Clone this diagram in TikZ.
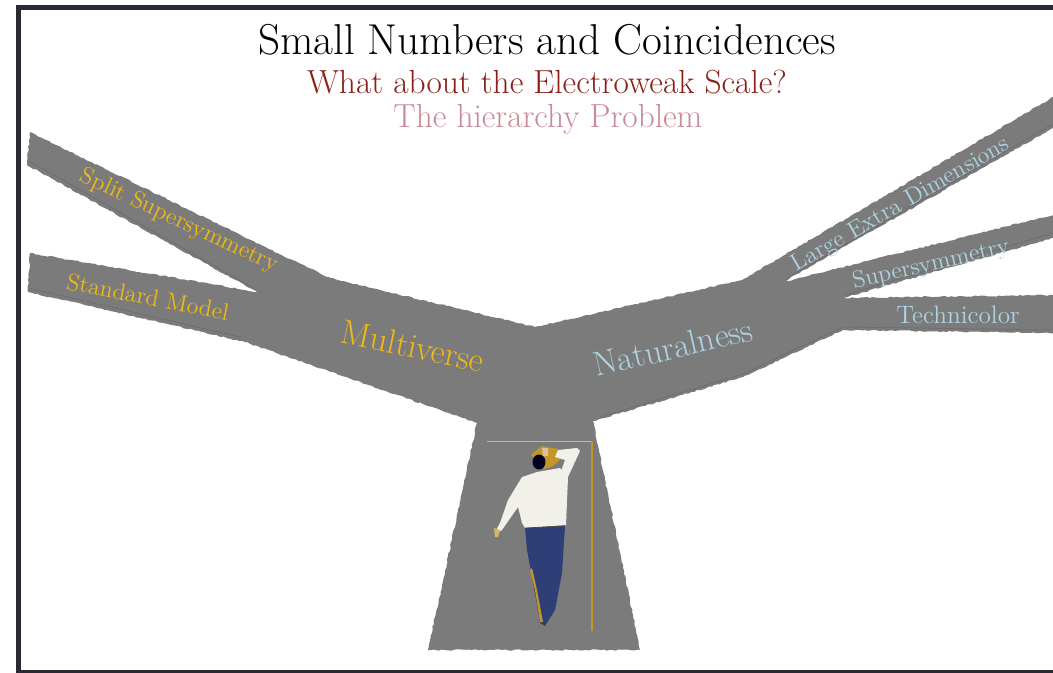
\documentclass[tikz,border=0pt]{standalone}
\usepackage{tikz}
\usetikzlibrary{decorations.pathmorphing}

\definecolor{bark}{RGB}{123,123,123}
\definecolor{frameink}{RGB}{42,42,52}
\definecolor{titlered}{RGB}{140,32,24}
\definecolor{titlepink}{RGB}{201,138,152}
\definecolor{leafgold}{RGB}{240,186,20}
\definecolor{leafblue}{RGB}{172,212,228}
\definecolor{shirt}{RGB}{241,241,233}
\definecolor{jeans}{RGB}{46,62,118}
\definecolor{ochre}{RGB}{196,150,40}

\tikzset{
	twig/.style={font=\fontsize{11.9}{12}\selectfont, inner sep=0pt},
	bough/.style={font=\fontsize{17.2}{18}\selectfont, inner sep=0pt},
	rough/.style={decorate, decoration={random steps, segment length=1.5pt, amplitude=0.35pt}},
}

\begin{document}
\begin{tikzpicture}[x=0.5pt, y=-0.5pt]
			%%%%% START %%%%%
			
			\useasboundingbox (0, 0) rectangle (1053, 673);
			\clip (0, 0) rectangle (1053, 673);
			\fill[white] (0, 0) rectangle (1053, 673);
			\draw[line width=2.5pt, color=frameink] (18.5, 7.7) rectangle (1070, 672);
			
			\node[font=\fontsize{21.6}{22}\selectfont, anchor=base] (title) at (547, 55) {Small Numbers and Coincidences};
			\node[font=\fontsize{16.7}{17}\selectfont, anchor=base, text=titlered] (question) at (547, 94) {What about the Electroweak Scale?};
			\node[font=\fontsize{16.7}{17}\selectfont, anchor=base, text=titlepink] (problem) at (548, 128) {The hierarchy Problem};
			
			\fill[bark, rough] (428, 650) -- (477, 423) -- (245, 342) -- (28, 292) -- (30, 253) -- (257, 292)
				-- (27, 165) -- (30, 132) -- (277, 253) -- (330, 278) -- (535, 327)
				-- (742, 280) -- (1060, 93) -- (1060, 124) -- (783, 282) -- (1060, 213)
				-- (1060, 236) -- (843, 298) -- (1060, 295) -- (1060, 333) -- (843, 330)
				-- (743, 377) -- (593, 421) -- (640, 650) -- cycle;
			
			\draw[line width=0.3pt, color=black!58] (29, 161) -- (255, 289);
			\draw[line width=0.3pt, color=black!58] (29, 288) -- (240, 337);
			\draw[line width=0.3pt, color=black!58] (786, 279) -- (1053, 124);
			\draw[line width=0.3pt, color=black!58] (845, 295) -- (1053, 233);
			\draw[line width=0.3pt, color=black!58] (845, 327) -- (1053, 330);
			\draw[line width=0.3pt, color=black!58] (600, 417) -- (743, 374) -- (843, 327);
			
			\node[twig, text=leafgold, rotate=-25] (splitsusy) at (179, 221) {Split Supersymmetry};
			\node[twig, text=leafgold, rotate=-11] (sm) at (148, 297) {Standard Model};
			\node[bough, text=leafgold, rotate=-12] (multiverse) at (413, 346) {Multiverse};
			\node[bough, text=leafblue, rotate=13] (naturalness) at (673, 347) {Naturalness};
			\node[twig, text=leafblue, rotate=30] (led) at (901, 205) {Large Extra Dimensions};
			\node[twig, text=leafblue, rotate=13] (susy) at (931, 265) {Supersymmetry};
			\node[twig, text=leafblue, font=\fontsize{12.6}{13}\selectfont] (technicolor) at (958, 315) {Technicolor};
			
			\draw[line width=0.3pt, color=ochre!70] (487, 441) -- (592, 441);
			\draw[line width=0.6pt, color=ochre] (592, 441) -- (592, 631);
			
			\fill[ochre] (531, 455) -- (542, 446) -- (558, 449) -- (563, 457) -- (553, 466) -- (545, 469) -- cycle;
			\fill[black!80!blue!60!black] (539, 462) ellipse (6.5 and 7.5);
			\fill[brown!50!white] (542, 448) -- (548, 448) -- (548, 456) -- (543, 456) -- cycle;
			
			\fill[jeans] (525, 528) -- (565, 526) -- (562, 573) -- (555, 610) -- (545, 626)
				-- (540, 623) -- (535, 593) -- (527, 550) -- cycle;
			\fill[ochre] (530, 570) -- (535, 590) -- (540, 622) -- (543, 622) -- (537, 590) -- (532, 568) -- cycle;
			
			\fill[shirt] (522, 477) -- (537, 472) -- (560, 468) -- (568, 477) -- (566, 525) -- (525, 528)
				-- (522, 523) -- (518, 507) -- (502, 530) -- (497, 533) -- (495, 532) -- (500, 523) -- (508, 500) -- cycle;
			\fill[shirt] (558, 450) -- (577, 448) -- (580, 451) -- (568, 477) -- (558, 480) -- (565, 460) -- (555, 457) -- cycle;
			\fill[ochre!70!white] (494, 528) -- (500, 530) -- (498, 537) -- (495, 537) -- cycle;
			\draw[line width=0.4pt, color=black!70] (525, 528) -- (565, 526);
			
			%%%%% END %%%%%
\end{tikzpicture}
\end{document}
